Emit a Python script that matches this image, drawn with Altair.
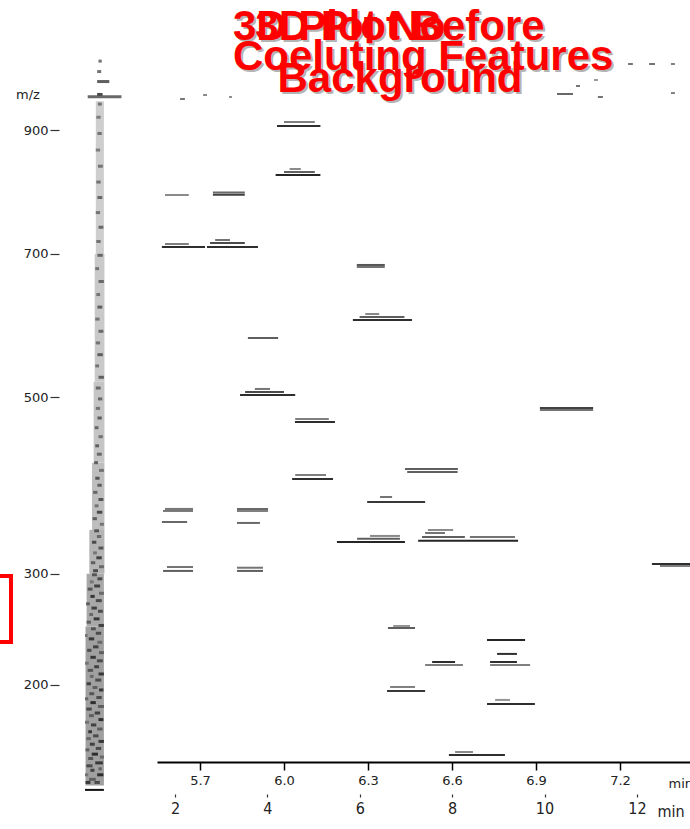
import altair as alt
import pandas as pd

# ---------------- data ----------------
# feature traces: (rt start [min], rt end [min], m/z, relative intensity)
features_high = [
    (6.000, 6.110, 913.8, 0.45), (5.975, 6.130, 907.0, 0.85),
    (6.020, 6.060, 834.4, 0.40), (6.000, 6.110, 829.4, 0.60), (5.970, 6.130, 824.5, 0.90),
    (5.575, 5.660, 792.0, 0.40),
    (5.746, 5.860, 796.0, 0.55), (5.746, 5.860, 792.5, 0.75),
    (5.575, 5.660, 715.2, 0.45), (5.564, 5.718, 710.6, 0.85),
    (5.754, 5.807, 721.3, 0.50), (5.736, 5.860, 716.7, 0.70), (5.725, 5.907, 710.6, 0.85),
    (6.260, 6.360, 683.5, 0.65), (6.260, 6.360, 680.5, 0.50),
    (6.290, 6.340, 612.2, 0.40), (6.270, 6.430, 608.0, 0.60), (6.246, 6.457, 603.8, 0.85),
    (5.871, 5.979, 578.7, 0.60),
]
features_mid = [
    (5.896, 5.950, 510.8, 0.50), (5.861, 6.000, 506.9, 0.70), (5.843, 6.040, 503.0, 0.85),
    (6.914, 7.104, 486.5, 0.75), (6.914, 7.104, 484.0, 0.50),
    (6.040, 6.160, 472.8, 0.45), (6.039, 6.182, 469.0, 0.85),
    (6.432, 6.621, 412.7, 0.60), (6.440, 6.620, 409.2, 0.60),
    (6.040, 6.150, 405.7, 0.45), (6.029, 6.175, 401.1, 0.85),
    (6.343, 6.386, 380.8, 0.50), (6.297, 6.504, 375.3, 0.80),
    (5.575, 5.675, 367.6, 0.50), (5.568, 5.675, 365.4, 0.50),
    (5.832, 5.943, 367.6, 0.55), (5.832, 5.943, 365.4, 0.45),
    (5.564, 5.654, 353.4, 0.55), (5.832, 5.914, 352.4, 0.55),
    (6.307, 6.414, 338.6, 0.40), (6.261, 6.414, 335.6, 0.60), (6.189, 6.432, 332.3, 0.90),
    (6.514, 6.604, 344.9, 0.40), (6.504, 6.575, 341.7, 0.50), (6.493, 6.646, 337.5, 0.60),
    (6.664, 6.825, 337.5, 0.50), (6.479, 6.836, 333.6, 0.90),
    (5.582, 5.675, 306.7, 0.50), (5.568, 5.675, 302.8, 0.60),
    (5.832, 5.925, 306.0, 0.50), (5.832, 5.925, 302.8, 0.60),
    (7.314, 7.500, 309.8, 0.85), (7.343, 7.500, 307.8, 0.45),
]
features_low = [
    (6.390, 6.450, 250.5, 0.35), (6.371, 6.468, 248.7, 0.60),
    (6.725, 6.861, 238.0, 0.90),
    (6.761, 6.832, 225.9, 0.85),
    (6.529, 6.611, 219.0, 0.85), (6.504, 6.639, 216.5, 0.45),
    (6.736, 6.832, 219.0, 0.85), (6.736, 6.879, 216.5, 0.45),
    (6.379, 6.468, 198.4, 0.45), (6.368, 6.504, 195.2, 0.80),
    (6.754, 6.807, 188.1, 0.35), (6.725, 6.896, 185.0, 0.85),
    (6.611, 6.675, 149.5, 0.40), (6.589, 6.789, 147.4, 0.85),
]
# small isolated specks near the top
specks_top = [
    (7.229, 7.246, 1016.7, 0.50), (7.304, 7.325, 1016.7, 0.50), (7.382, 7.396, 1016.7, 0.45),
    (7.107, 7.121, 987.8, 0.35), (7.043, 7.057, 977.0, 0.50), (6.975, 7.032, 962.8, 0.55),
    (7.121, 7.139, 957.5, 0.50), (7.382, 7.396, 964.5, 0.45),
    (5.629, 5.646, 953.9, 0.50), (5.711, 5.725, 961.0, 0.40), (5.804, 5.814, 957.5, 0.40),
]

# background strip (projection of noise): faint bands (m/z lo, m/z hi, x0, x1, shade)
strip_bands = [
    (127, 250, 0.02, 0.70, 0.30),
    (250, 300, 0.06, 0.70, 0.26),
    (300, 345, 0.16, 0.72, 0.21),
    (345, 420, 0.26, 0.72, 0.17),
    (420, 520, 0.32, 0.72, 0.14),
    (520, 700, 0.36, 0.72, 0.12),
    (700, 950, 0.40, 0.70, 0.10),
]
# background strip specks (m/z, x0, x1, shade)
strip_low = [
    (129, 0.02, 0.20, 0.80), (129, 0.35, 0.55, 0.70), (131, 0.15, 0.40, 0.60), (134, 0.45, 0.68, 0.85),
    (134, 0.00, 0.12, 0.50), (137, 0.20, 0.35, 0.75), (138, 0.50, 0.62, 0.60), (140, 0.05, 0.28, 0.70),
    (142, 0.38, 0.66, 0.80), (145, 0.12, 0.30, 0.65), (146, 0.55, 0.70, 0.55), (148, 0.25, 0.48, 0.85),
    (151, 0.02, 0.16, 0.60), (152, 0.40, 0.60, 0.70), (155, 0.18, 0.36, 0.75), (157, 0.50, 0.70, 0.80),
    (159, 0.05, 0.22, 0.55), (161, 0.30, 0.50, 0.70), (164, 0.12, 0.26, 0.80), (166, 0.45, 0.65, 0.60),
    (169, 0.22, 0.42, 0.75), (171, 0.00, 0.15, 0.50), (173, 0.50, 0.68, 0.85), (176, 0.15, 0.33, 0.60),
    (178, 0.36, 0.56, 0.75), (181, 0.05, 0.25, 0.70), (183, 0.48, 0.70, 0.60), (186, 0.20, 0.40, 0.85),
    (189, 0.00, 0.12, 0.55), (190, 0.42, 0.62, 0.70), (193, 0.16, 0.34, 0.65), (196, 0.52, 0.68, 0.80),
    (198, 0.28, 0.46, 0.60), (201, 0.06, 0.22, 0.75), (204, 0.38, 0.60, 0.70), (207, 0.18, 0.32, 0.55),
    (209, 0.50, 0.70, 0.80), (212, 0.10, 0.30, 0.65), (215, 0.34, 0.52, 0.75), (218, 0.00, 0.14, 0.50),
    (220, 0.44, 0.66, 0.70), (223, 0.20, 0.40, 0.80), (227, 0.52, 0.70, 0.60), (229, 0.08, 0.24, 0.70),
    (232, 0.30, 0.50, 0.75), (236, 0.46, 0.64, 0.55), (239, 0.14, 0.34, 0.80), (242, 0.00, 0.10, 0.50),
    (244, 0.40, 0.60, 0.70), (248, 0.22, 0.40, 0.65), (251, 0.50, 0.70, 0.75), (254, 0.06, 0.22, 0.60),
    (257, 0.32, 0.54, 0.80), (261, 0.16, 0.30, 0.55), (264, 0.48, 0.66, 0.70), (267, 0.24, 0.44, 0.75),
    (271, 0.04, 0.18, 0.60), (274, 0.40, 0.62, 0.70), (278, 0.20, 0.36, 0.80), (281, 0.52, 0.70, 0.55),
    (285, 0.10, 0.28, 0.65), (288, 0.34, 0.56, 0.75), (292, 0.18, 0.32, 0.50), (295, 0.46, 0.64, 0.70),
    (299, 0.26, 0.44, 0.65),
]
strip_mid = [
    (303, 0.30, 0.48, 0.70), (307, 0.52, 0.70, 0.55), (311, 0.22, 0.38, 0.60), (316, 0.42, 0.62, 0.75),
    (321, 0.30, 0.44, 0.50), (326, 0.50, 0.68, 0.65), (332, 0.26, 0.42, 0.70), (338, 0.44, 0.60, 0.55),
    (344, 0.34, 0.52, 0.65), (351, 0.55, 0.70, 0.50), (357, 0.28, 0.44, 0.60), (364, 0.44, 0.64, 0.70),
    (371, 0.36, 0.50, 0.50), (378, 0.50, 0.68, 0.65), (386, 0.30, 0.46, 0.55), (394, 0.46, 0.62, 0.60),
    (402, 0.38, 0.54, 0.65), (411, 0.52, 0.70, 0.50), (420, 0.34, 0.48, 0.60), (430, 0.44, 0.62, 0.55),
    (440, 0.38, 0.52, 0.60), (451, 0.50, 0.66, 0.50), (462, 0.36, 0.50, 0.55), (474, 0.46, 0.62, 0.60),
    (486, 0.40, 0.56, 0.50), (498, 0.48, 0.64, 0.55),
]
strip_high = [
    (512, 0.40, 0.58, 0.55), (526, 0.50, 0.70, 0.60), (541, 0.38, 0.52, 0.50), (556, 0.46, 0.66, 0.60),
    (572, 0.40, 0.56, 0.50), (588, 0.50, 0.68, 0.55), (605, 0.38, 0.54, 0.50), (622, 0.46, 0.64, 0.60),
    (640, 0.42, 0.56, 0.50), (659, 0.50, 0.70, 0.55), (678, 0.38, 0.52, 0.50), (698, 0.46, 0.66, 0.55),
    (719, 0.42, 0.58, 0.50), (741, 0.50, 0.68, 0.55), (764, 0.40, 0.56, 0.50), (788, 0.46, 0.64, 0.55),
    (813, 0.42, 0.58, 0.50), (839, 0.48, 0.66, 0.50), (866, 0.40, 0.56, 0.45), (894, 0.46, 0.62, 0.50),
    (922, 0.42, 0.58, 0.45), (945, 0.48, 0.62, 0.50),
    (958, 0.10, 1.35, 0.55), (962, 0.45, 0.65, 0.70),
    (985, 0.45, 0.90, 0.60), (1003, 0.45, 0.60, 0.50), (1022, 0.50, 0.62, 0.50),
]

rt_ticks = [5.7, 6.0, 6.3, 6.6, 6.9, 7.2]
min_ticks = [2, 4, 6, 8, 10, 12]
mz_ticks = [200, 300, 500, 700, 900]

# ---------------- frames ----------------
seg_cols = ["rt0", "rt1", "mz", "shade"]
features = pd.DataFrame(features_high + features_mid + features_low + specks_top, columns=seg_cols)
bands = pd.DataFrame(strip_bands, columns=["lo", "hi", "x0", "x1", "shade"])
strip = pd.DataFrame(strip_low + strip_mid + strip_high, columns=["mz", "x0", "x1", "shade"])
underline = pd.DataFrame({"mz": [124.2], "x0": [0.0], "x1": [0.7]})
mins = pd.DataFrame({"t": min_ticks})

# ---------------- scales / axes ----------------
FONT = "DejaVu Sans"
rt_scale = alt.Scale(domain=[5.5464, 7.45], nice=False, zero=False)
mz_scale = alt.Scale(type="sqrt", domain=[142.6, 1042.4], nice=False, zero=False)
strip_scale = alt.Scale(domain=[0, 1], range=[-72, -45])
min_scale = alt.Scale(domain=[1.61, 13.15], nice=False, zero=False)
shade_scale = alt.Scale(domain=[0, 1], range=["#e6e6e6", "#141414"])

y_axis = alt.Axis(
    values=mz_ticks, orient="left", offset=98, domain=False, grid=False,
    tickSize=9, tickColor="#333", tickWidth=1.2,
    labelFont=FONT, labelFontSize=13, labelColor="#222", labelPadding=2, title=None,
)


def Y(field):
    return alt.Y(field, scale=mz_scale, axis=y_axis)


feature_layer = alt.Chart(features).mark_rule(strokeWidth=2).encode(
    x=alt.X(
        "rt0:Q", scale=rt_scale,
        axis=alt.Axis(
            values=rt_ticks, format=".1f", orient="bottom", grid=False,
            domainColor="#000", domainWidth=2, tickColor="#000", tickSize=8, tickWidth=1.5,
            labelFont=FONT, labelFontSize=13, labelColor="#222", labelPadding=4,
            title="min", titleX=511, titleY=25, titleAlign="left", titleBaseline="alphabetic",
            titleFont=FONT, titleFontSize=13, titleFontWeight="normal", titleColor="#222",
        ),
    ),
    x2="rt1:Q",
    y=Y("mz:Q"),
    color=alt.Color("shade:Q", scale=shade_scale, legend=None),
)

band_layer = alt.Chart(bands).mark_rect().encode(
    x=alt.X("x0:Q", scale=strip_scale, axis=None),
    x2="x1:Q",
    y=Y("lo:Q"),
    y2="hi:Q",
    color=alt.Color("shade:Q", scale=shade_scale, legend=None),
)
strip_layer = alt.Chart(strip).mark_rule(strokeWidth=3).encode(
    x=alt.X("x0:Q", scale=strip_scale, axis=None),
    x2="x1:Q",
    y=Y("mz:Q"),
    color=alt.Color("shade:Q", scale=shade_scale, legend=None),
)
underline_layer = alt.Chart(underline).mark_rule(strokeWidth=2, color="#111").encode(
    x=alt.X("x0:Q", scale=strip_scale, axis=None),
    x2="x1:Q",
    y=Y("mz:Q"),
)

NARROW = "Liberation Sans Narrow, DejaVu Sans Condensed, DejaVu Sans"
min_layer = alt.Chart(mins).mark_point(opacity=0).encode(
    x=alt.X(
        "t:Q", scale=min_scale,
        axis=alt.Axis(
            values=min_ticks, orient="bottom", offset=32, domain=False, grid=False,
            tickSize=3, tickColor="#333", tickWidth=1.2,
            labelFont=NARROW, labelFontSize=16, labelColor="#222", labelPadding=3,
            title="min", titleX=500, titleY=22, titleAlign="left", titleBaseline="alphabetic",
            titleFont=NARROW, titleFontSize=16, titleFontWeight="normal", titleColor="#222",
        ),
    ),
)

one = pd.DataFrame({"t": [""]})


def text_layer(txt, x, y, align="left", color="#222", size=13, bold=False, font=FONT, baseline="alphabetic"):
    return alt.Chart(pd.DataFrame({"t": [txt]})).mark_text(
        align=align, baseline=baseline, fontSize=size, font=font,
        fontWeight="bold" if bold else "normal", color=color,
    ).encode(text="t:N", x=alt.value(x), y=alt.value(y))


mz_label = text_layer("m/z", -141, 45, baseline="middle")

red_box = alt.Chart(one).mark_rect(fill="white", stroke="#ff0000", strokeWidth=4).encode(
    x=alt.value(-162), x2=alt.value(-146), y=alt.value(526), y2=alt.value(592)
)

TFONT = "Liberation Sans"
TSIZE = 42
title_lines = [
    ("3D Plot Before", 243, -10, "center"),
    ("Background", 243, 42, "center"),
    ("3D Plot No", 76, -10, "left"),
    ("Coeluting Features", 76, 20, "left"),
]
shadows = [text_layer(t, x + 2, y + 2, a, "#b4b4b4", TSIZE, True, TFONT) for t, x, y, a in title_lines]
reds = [text_layer(t, x, y, a, "#ff0000", TSIZE, True, TFONT) for t, x, y, a in title_lines]

chart = alt.layer(
    feature_layer, band_layer, strip_layer, underline_layer, min_layer,
    mz_label, red_box, *shadows, *reds,
).resolve_scale(x="independent").properties(
    width=533, height=712,
    autosize=alt.AutoSizeParams(type="none"),
    padding={"left": 157, "top": 50, "right": 0, "bottom": 67},
    background="white",
).configure_view(stroke=None).configure_axis(grid=False)

chart.save("out.html", embed_options={"renderer": "svg", "actions": False})
